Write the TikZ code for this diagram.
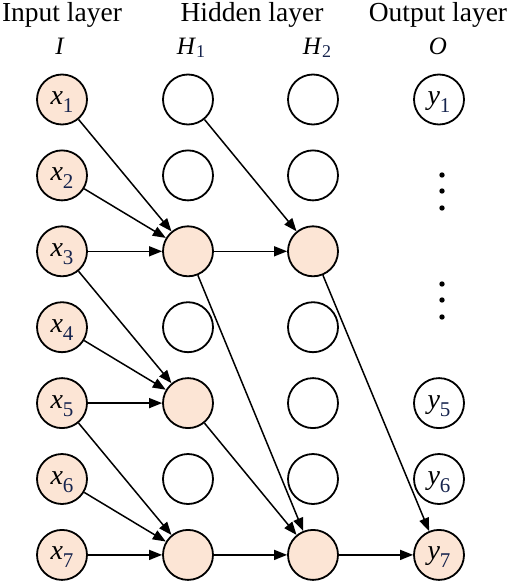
\documentclass[tikz,border=0pt]{standalone}
\usepackage{fontspec}
\setmainfont{Liberation Serif}
\usetikzlibrary{arrows.meta}
\definecolor{peach}{RGB}{252,229,213}
\definecolor{subblue}{RGB}{22,36,78}
\newcommand{\nvar}[2]{\fontsize{28}{28}\selectfont\textit{#1}\raisebox{-8pt}{\fontsize{21}{21}\selectfont\color{subblue}#2}}
\newcommand{\lvar}[2]{\textit{#1}\raisebox{-3pt}{\fontsize{18}{18}\selectfont\color{subblue}#2}}
\begin{document}
\begin{tikzpicture}[x=1pt,y=-1pt,
  neuron/.style={circle,draw,line width=1.8pt,minimum size=50pt,inner sep=0pt,fill=white,text height=16pt,text depth=6pt},
  active/.style={neuron,fill=peach},
  conn/.style={line width=1.5pt,-{Triangle[length=13pt,width=10pt]}},
  title/.style={font=\fontsize{27.5}{30}\selectfont,anchor=base},
  lab/.style={font=\fontsize{25}{27}\selectfont,anchor=base}]
\useasboundingbox (0,0) rectangle (512,583);
\fill[white] (0,0) rectangle (512,583);

% titles
\node[title] (tin)  at (62,22)  {Input layer};
\node[title] (thid) at (252,22) {Hidden layer};
\node[title] (tout) at (438,22) {Output layer};
\node[lab] (lI)  at (60,55)  {\textit{I}};
\node[lab] (lH1) at (191,55) {\lvar{H}{1}};
\node[lab] (lH2) at (317,55) {\lvar{H}{2}};
\node[lab] (lO)  at (438,55) {\textit{O}};

% input layer
\foreach \i in {1,...,7}
  \node[active] (x\i) at (62,{99.5+(\i-1)*75.9}) {\nvar{x}{\i}};

% hidden layer 1
\foreach \i/\s in {1/neuron,2/neuron,3/active,4/neuron,5/active,6/neuron,7/active}
  \node[\s] (a\i) at (188,{99.5+(\i-1)*75.9}) {};

% hidden layer 2
\foreach \i/\s in {1/neuron,2/neuron,3/active,4/neuron,5/neuron,6/neuron,7/active}
  \node[\s] (b\i) at (313,{99.5+(\i-1)*75.9}) {};

% output layer
\node[neuron] (y1) at (439,99.5) {\nvar{y}{1}};
\node[neuron] (y5) at (439,{99.5+4*75.9}) {\nvar{y}{5}};
\node[neuron] (y6) at (439,{99.5+5*75.9}) {\nvar{y}{6}};
\node[active] (y7) at (439,{99.5+6*75.9}) {\nvar{y}{7}};
\foreach \yy in {175,191,208,284,300,317}
  \fill (442,\yy) circle (2.7);

% connections
\draw[conn] (x1) -- (a3);
\draw[conn] (x2) -- (a3);
\draw[conn] (x3) -- (a3);
\draw[conn] (x3) -- (a5);
\draw[conn] (x4) -- (a5);
\draw[conn] (x5) -- (a5);
\draw[conn] (x5) -- (a7);
\draw[conn] (x6) -- (a7);
\draw[conn] (x7) -- (a7);
\draw[conn] (a1) -- (b3);
\draw[conn] (a3) -- (b3);
\draw[conn] (a3) -- (b7);
\draw[conn] (a5) -- (b7);
\draw[conn] (a7) -- (b7);
\draw[conn] (b3) -- (y7);
\draw[conn] (b7) -- (y7);
\end{tikzpicture}
\end{document}
